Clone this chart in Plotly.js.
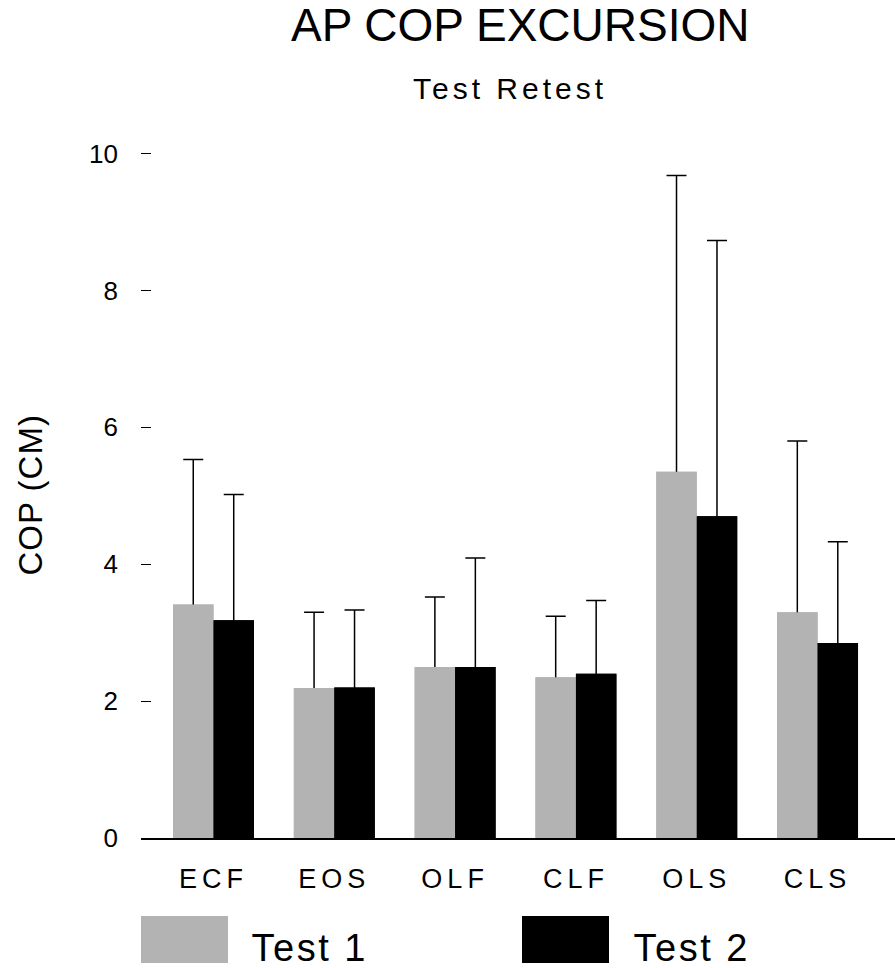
<!DOCTYPE html>
<html>
<head>
<meta charset="utf-8">
<script src="https://cdn.plot.ly/plotly-3.0.1.min.js"></script>
<style>
  html, body { margin: 0; padding: 0; background: #fff; }
  #chart { width: 895px; height: 968px; }
  .xtick text { letter-spacing: 5px; }
  g.annotation[data-index="1"] text { letter-spacing: 4px; }
  g.annotation[data-index="2"] text { letter-spacing: 1px; }
  g.annotation[data-index="3"] text { letter-spacing: 2.5px; }
  g.annotation[data-index="4"] text { letter-spacing: 2.5px; }
</style>
</head>
<body>
<div id="chart"></div>
<script>
// ---- data ----
const categories = ['ECF', 'EOS', 'OLF', 'CLF', 'OLS', 'CLS'];
const seriesNames = ['Test 1', 'Test 2'];
const test1Mean = [3.41, 2.19, 2.50, 2.35, 5.35, 3.30];
const test1SD   = [2.12, 1.11, 1.02, 0.89, 4.33, 2.50];
const test2Mean = [3.18, 2.20, 2.50, 2.40, 4.70, 2.85];
const test2SD   = [1.84, 1.13, 1.59, 1.07, 4.03, 1.48];
const yTickVals = [0, 2, 4, 6, 8, 10];
const seriesColors = ['#b3b3b3', '#000000'];
const titleText = 'AP COP EXCURSION';
const subtitleText = 'Test Retest';
const yTitleText = 'COP (CM)';

const FONT = 'Liberation Sans, Arial, Helvetica, sans-serif';

// upper-only error bar; the lower end is sent to the baseline and hidden under the bars
function errSpec(mean, sd) {
  return {
    type: 'data', symmetric: false, array: sd,
    arrayminus: mean,
    color: '#000', thickness: 1.5, width: 10, visible: true
  };
}

const traces = [
  { type: 'bar', name: seriesNames[0], x: categories, y: test1Mean, offsetgroup: 'a',
    marker: { color: seriesColors[0], line: { width: 0 } },
    error_y: errSpec(test1Mean, test1SD), hoverinfo: 'none' },
  { type: 'bar', name: seriesNames[1], x: categories, y: test2Mean, offsetgroup: 'b',
    marker: { color: seriesColors[1], line: { width: 0 } },
    error_y: errSpec(test2Mean, test2SD), hoverinfo: 'none' },
  // same bars again, drawn over the lower half of the error bars
  { type: 'bar', name: seriesNames[0], x: categories, y: test1Mean, offsetgroup: 'a',
    marker: { color: seriesColors[0], line: { width: 0 } }, hoverinfo: 'none' },
  { type: 'bar', name: seriesNames[1], x: categories, y: test2Mean, offsetgroup: 'b',
    marker: { color: seriesColors[1], line: { width: 0 } }, hoverinfo: 'none' }
];

// plot-area geometry (pixels) used for paper-coordinate placement of decorations
const L = 141, R = 0, T = 133, B = 130, W = 895, H = 968;
const PW = W - L - R, PH = H - T - B;
const px = (x) => (x - L) / PW;
const py = (y) => (H - B - y) / PH;

const layout = {
  width: W, height: H,
  margin: { l: L, r: R, t: T, b: B, pad: 0 },
  paper_bgcolor: '#fff', plot_bgcolor: '#fff',
  font: { family: FONT, color: '#000' },
  showlegend: false,
  barmode: 'group', bargap: 0.33, bargroupgap: 0,
  xaxis: {
    type: 'category', range: [-0.600, 5.641],
    showline: true, linecolor: '#000', linewidth: 1.5, layer: 'above traces',
    ticks: '', showgrid: false, zeroline: false,
    tickfont: { family: FONT, size: 27, color: '#000' },
    ticklabelstandoff: 16
  },
  yaxis: {
    range: [0, 10.3], tickvals: yTickVals, ticktext: yTickVals.map(String),
    showline: false, showgrid: false, zeroline: false,
    ticks: 'inside', ticklen: 10, tickwidth: 1, tickcolor: '#000',
    tickfont: { family: FONT, size: 26, color: '#000' },
    ticklabelstandoff: 22
  },
  annotations: [
    { text: titleText, xref: 'paper', yref: 'paper', x: px(520), y: py(25.5),
      xanchor: 'center', yanchor: 'middle', showarrow: false,
      font: { family: FONT, size: 46, color: '#000' } },
    { text: subtitleText, xref: 'paper', yref: 'paper', x: px(510), y: py(88),
      xanchor: 'center', yanchor: 'middle', showarrow: false,
      font: { family: FONT, size: 30, color: '#000' } },
    { text: yTitleText, xref: 'paper', yref: 'paper', x: px(29.5), y: py(495),
      xanchor: 'center', yanchor: 'middle', showarrow: false, textangle: -90,
      font: { family: FONT, size: 33, color: '#000' } },
    { text: seriesNames[0], xref: 'paper', yref: 'paper', x: px(257), y: py(948),
      xanchor: 'left', yanchor: 'middle', showarrow: false,
      font: { family: FONT, size: 38, color: '#000' } },
    { text: seriesNames[1], xref: 'paper', yref: 'paper', x: px(639), y: py(948),
      xanchor: 'left', yanchor: 'middle', showarrow: false,
      font: { family: FONT, size: 38, color: '#000' } }
  ],
  shapes: [
    { type: 'rect', xref: 'paper', yref: 'paper',
      x0: px(141), x1: px(228), y0: py(963), y1: py(916),
      fillcolor: seriesColors[0], line: { width: 0 } },
    { type: 'rect', xref: 'paper', yref: 'paper',
      x0: px(522), x1: px(609), y0: py(963), y1: py(916),
      fillcolor: seriesColors[1], line: { width: 0 } }
  ]
};

Plotly.newPlot('chart', traces, layout, { displayModeBar: false, staticPlot: true });
</script>
</body>
</html>
